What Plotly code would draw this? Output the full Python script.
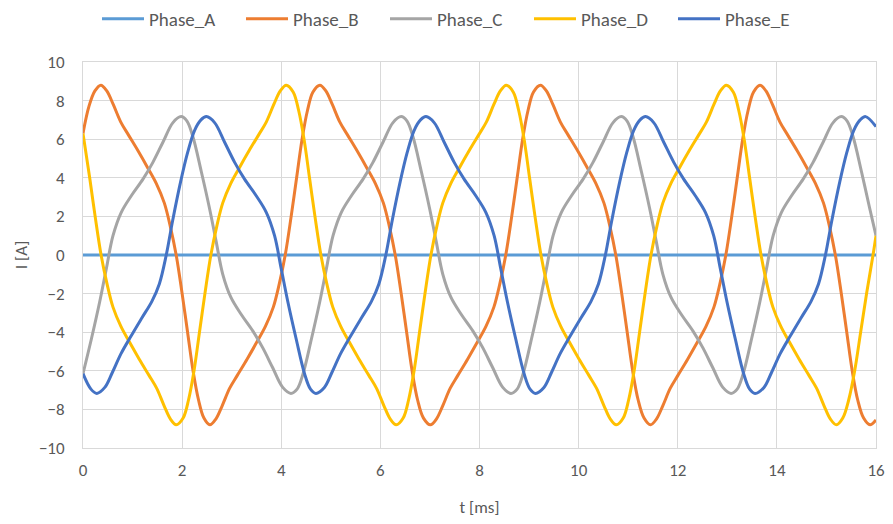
import plotly.graph_objects as go

# ---- data ----
series_names = ["Phase_A", "Phase_B", "Phase_C", "Phase_D", "Phase_E"]

t_A = [0.0, 16.0]
i_A = [0.0, 0.0]

t_B = [0.00, 0.12, 0.24, 0.36,
       0.48, 0.61, 0.76, 0.91, 1.11, 1.31, 1.48, 1.64, 1.76, 1.88, 2.00, 2.11, 2.22, 2.33, 2.44, 2.56,
       2.68, 2.81, 2.96, 3.11, 3.31, 3.51, 3.68, 3.84, 3.96, 4.08, 4.20, 4.31, 4.42, 4.53, 4.64, 4.78,
       4.90, 5.03, 5.18, 5.33, 5.53, 5.73, 5.90, 6.06, 6.18, 6.30, 6.42, 6.53, 6.64, 6.75, 6.87, 7.01,
       7.13, 7.26, 7.41, 7.56, 7.76, 7.96, 8.13, 8.29, 8.41, 8.53, 8.65, 8.76, 8.87, 8.98, 9.09, 9.23,
       9.35, 9.48, 9.63, 9.78, 9.98, 10.18, 10.35, 10.51, 10.63, 10.75, 10.87, 10.98, 11.09, 11.20, 11.32, 11.45,
       11.57, 11.70, 11.85, 12.00, 12.20, 12.40, 12.57, 12.73, 12.85, 12.97, 13.09, 13.20, 13.31, 13.42, 13.53, 13.66,
       13.78, 13.91, 14.06, 14.21, 14.41, 14.61, 14.78, 14.94, 15.06, 15.18, 15.30, 15.41, 15.52, 15.63, 15.75, 15.88,
       16.00]
i_B = [6.3, 7.7, 8.5, 8.8,
       8.5, 7.8, 6.9, 6.25, 5.4, 4.5, 3.7, 2.7, 1.5, 0.0, -2.0, -4.0, -6.0, -7.5, -8.45, -8.8,
       -8.5, -7.8, -6.9, -6.25, -5.4, -4.5, -3.7, -2.7, -1.5, 0.0, 2.0, 4.0, 6.0, 7.5, 8.45, 8.8,
       8.5, 7.8, 6.9, 6.25, 5.4, 4.5, 3.7, 2.7, 1.5, 0.0, -2.0, -4.0, -6.0, -7.5, -8.45, -8.8,
       -8.5, -7.8, -6.9, -6.25, -5.4, -4.5, -3.7, -2.7, -1.5, 0.0, 2.0, 4.0, 6.0, 7.5, 8.45, 8.8,
       8.5, 7.8, 6.9, 6.25, 5.4, 4.5, 3.7, 2.7, 1.5, 0.0, -2.0, -4.0, -6.0, -7.5, -8.45, -8.8,
       -8.5, -7.8, -6.9, -6.25, -5.4, -4.5, -3.7, -2.7, -1.5, 0.0, 2.0, 4.0, 6.0, 7.5, 8.45, 8.8,
       8.5, 7.8, 6.9, 6.25, 5.4, 4.5, 3.7, 2.7, 1.5, 0.0, -2.0, -4.0, -6.0, -7.5, -8.45, -8.8,
       -8.55]

t_C = [0.00, 0.17, 0.335, 0.47, 0.605, 0.77, 0.975, 1.21, 1.41, 1.61, 1.815, 1.98,
       2.095, 2.215, 2.385, 2.55, 2.685, 2.82, 2.985, 3.19, 3.425, 3.625, 3.825, 4.03, 4.195,
       4.32, 4.44, 4.61, 4.775, 4.91, 5.045, 5.21, 5.415, 5.65, 5.85, 6.05, 6.255, 6.42,
       6.535, 6.655, 6.825, 6.99, 7.125, 7.26, 7.425, 7.63, 7.865, 8.065, 8.265, 8.47, 8.635,
       8.76, 8.88, 9.05, 9.215, 9.35, 9.485, 9.65, 9.855, 10.09, 10.29, 10.49, 10.695, 10.86,
       10.975, 11.095, 11.265, 11.43, 11.565, 11.70, 11.865, 12.07, 12.305, 12.505, 12.705, 12.91, 13.075,
       13.20, 13.32, 13.49, 13.655, 13.79, 13.925, 14.09, 14.295, 14.53, 14.73, 14.93, 15.135, 15.30,
       15.415, 15.535, 15.705, 15.87, 16.00]
i_C = [-6.15, -4.34, -2.45, -0.72, 1.0, 2.2, 3.07, 3.93, 4.8, 5.83, 6.86, 7.17,
       6.95, 6.15, 4.34, 2.45, 0.72, -1.0, -2.2, -3.07, -3.93, -4.8, -5.83, -6.86, -7.17,
       -6.95, -6.15, -4.34, -2.45, -0.72, 1.0, 2.2, 3.07, 3.93, 4.8, 5.83, 6.86, 7.17,
       6.95, 6.15, 4.34, 2.45, 0.72, -1.0, -2.2, -3.07, -3.93, -4.8, -5.83, -6.86, -7.17,
       -6.95, -6.15, -4.34, -2.45, -0.72, 1.0, 2.2, 3.07, 3.93, 4.8, 5.83, 6.86, 7.17,
       6.95, 6.15, 4.34, 2.45, 0.72, -1.0, -2.2, -3.07, -3.93, -4.8, -5.83, -6.86, -7.17,
       -6.95, -6.15, -4.34, -2.45, -0.72, 1.0, 2.2, 3.07, 3.93, 4.8, 5.83, 6.86, 7.17,
       6.95, 6.15, 4.34, 2.45, 1.0]

t_D = [0.00, 0.135, 0.245, 0.365, 0.485, 0.605, 0.765, 0.935, 1.135, 1.335, 1.485, 1.635, 1.765, 1.88,
       2.02, 2.13, 2.24, 2.35, 2.46, 2.58, 2.70, 2.82, 2.98, 3.15, 3.35, 3.55, 3.70, 3.85, 3.98, 4.10,
       4.24, 4.35, 4.46, 4.57, 4.68, 4.80, 4.92, 5.04, 5.20, 5.37, 5.57, 5.77, 5.92, 6.07, 6.20, 6.32,
       6.46, 6.57, 6.68, 6.79, 6.90, 7.02, 7.14, 7.26, 7.42, 7.59, 7.79, 7.99, 8.14, 8.29, 8.42, 8.54,
       8.68, 8.79, 8.90, 9.01, 9.12, 9.24, 9.36, 9.48, 9.64, 9.81, 10.01, 10.21, 10.36, 10.51, 10.64, 10.76,
       10.90, 11.01, 11.12, 11.23, 11.34, 11.46, 11.58, 11.70, 11.86, 12.03, 12.23, 12.43, 12.58, 12.73, 12.86, 12.98,
       13.12, 13.23, 13.34, 13.45, 13.56, 13.68, 13.80, 13.92, 14.08, 14.25, 14.45, 14.65, 14.80, 14.95, 15.08, 15.20,
       15.33, 15.45, 15.57, 15.69, 15.81, 15.94, 16.00]
i_D = [6.3, 4.0, 2.0, 0.0, -1.5, -2.7, -3.7, -4.5, -5.4, -6.25, -6.9, -7.8, -8.5, -8.8,
       -8.45, -7.5, -6.0, -4.0, -2.0, 0.0, 1.5, 2.7, 3.7, 4.5, 5.4, 6.25, 6.9, 7.8, 8.5, 8.8,
       8.45, 7.5, 6.0, 4.0, 2.0, 0.0, -1.5, -2.7, -3.7, -4.5, -5.4, -6.25, -6.9, -7.8, -8.5, -8.8,
       -8.45, -7.5, -6.0, -4.0, -2.0, 0.0, 1.5, 2.7, 3.7, 4.5, 5.4, 6.25, 6.9, 7.8, 8.5, 8.8,
       8.45, 7.5, 6.0, 4.0, 2.0, 0.0, -1.5, -2.7, -3.7, -4.5, -5.4, -6.25, -6.9, -7.8, -8.5, -8.8,
       -8.45, -7.5, -6.0, -4.0, -2.0, 0.0, 1.5, 2.7, 3.7, 4.5, 5.4, 6.25, 6.9, 7.8, 8.5, 8.8,
       8.45, 7.5, 6.0, 4.0, 2.0, 0.0, -1.5, -2.7, -3.7, -4.5, -5.4, -6.25, -6.9, -7.8, -8.5, -8.8,
       -8.45, -7.5, -6.0, -4.0, -2.0, 0.0, 1.0]

t_E = [0.00, 0.16, 0.28,
       0.44, 0.59, 0.77, 0.97, 1.19, 1.39, 1.54, 1.68, 1.81, 1.97, 2.11, 2.25, 2.38, 2.49,
       2.655, 2.86, 3.06, 3.26, 3.495, 3.70, 3.865, 4.00, 4.135, 4.30, 4.47, 4.59, 4.70,
       4.87, 5.02, 5.20, 5.40, 5.62, 5.82, 5.97, 6.11, 6.24, 6.40, 6.54, 6.68, 6.81, 6.92,
       7.085, 7.29, 7.49, 7.69, 7.925, 8.13, 8.295, 8.43, 8.565, 8.73, 8.90, 9.02, 9.13,
       9.30, 9.45, 9.63, 9.83, 10.05, 10.25, 10.40, 10.54, 10.67, 10.83, 10.97, 11.11, 11.24, 11.35,
       11.515, 11.72, 11.92, 12.12, 12.355, 12.56, 12.725, 12.86, 12.995, 13.16, 13.33, 13.45, 13.56,
       13.74, 13.89, 14.07, 14.27, 14.49, 14.69, 14.84, 14.98, 15.11, 15.27, 15.41, 15.55, 15.68, 15.79,
       16.00]
i_E = [-6.15, -6.95, -7.17,
       -6.86, -6.1, -5.1, -4.2, -3.25, -2.4, -1.5, 0.0, 1.8, 3.8, 5.3, 6.45, 7.0, 7.17,
       6.86, 5.83, 4.8, 3.93, 3.07, 2.2, 1.0, -0.72, -2.45, -4.34, -6.15, -6.95, -7.17,
       -6.86, -6.1, -5.1, -4.2, -3.25, -2.4, -1.5, 0.0, 1.8, 3.8, 5.3, 6.45, 7.0, 7.17,
       6.86, 5.83, 4.8, 3.93, 3.07, 2.2, 1.0, -0.72, -2.45, -4.34, -6.15, -6.95, -7.17,
       -6.86, -6.1, -5.1, -4.2, -3.25, -2.4, -1.5, 0.0, 1.8, 3.8, 5.3, 6.45, 7.0, 7.17,
       6.86, 5.83, 4.8, 3.93, 3.07, 2.2, 1.0, -0.72, -2.45, -4.34, -6.15, -6.95, -7.17,
       -6.86, -6.1, -5.1, -4.2, -3.25, -2.4, -1.5, 0.0, 1.8, 3.8, 5.3, 6.45, 7.0, 7.17,
       6.65]

x_ticks = [0, 2, 4, 6, 8, 10, 12, 14, 16]
y_ticks = [-10, -8, -6, -4, -2, 0, 2, 4, 6, 8, 10]

colors = ["#5B9BD5", "#ED7D31", "#A5A5A5", "#FFC000", "#4472C4"]
series_t = [t_A, t_B, t_C, t_D, t_E]
series_i = [i_A, i_B, i_C, i_D, i_E]

fig = go.Figure()
for name, tt, ii, col in zip(series_names, series_t, series_i, colors):
    fig.add_trace(go.Scatter(
        x=tt, y=ii, name=name, mode="lines",
        line=dict(color=col, width=3, shape="spline", smoothing=1.0),
    ))

font_family = "Carlito, Calibri, Lato, sans-serif"
grid = "#D9D9D9"
txt = "#595959"

W, H = 893, 524

fig.update_layout(
    width=W, height=H,
    margin=dict(l=83, r=17, t=62, b=76, autoexpand=False),
    paper_bgcolor="white", plot_bgcolor="white",
    font=dict(family=font_family, size=17, color=txt),
    showlegend=True,
    legend=dict(orientation="h", xref="container", yref="container",
                x=97 / W, xanchor="left", y=1.0, yanchor="top",
                font=dict(size=19, color=txt), itemwidth=42,
                entrywidth=87, entrywidthmode="pixels", traceorder="normal"),
    xaxis=dict(range=[0, 16], tickvals=x_ticks, showgrid=True, gridcolor=grid, gridwidth=1,
               showline=True, mirror=True, linecolor=grid, linewidth=1, zeroline=False,
               ticks="", ticklabelstandoff=7, automargin=False,
               title=dict(text="t [ms]", standoff=20, font=dict(size=17, color=txt))),
    yaxis=dict(range=[-10, 10], tickvals=y_ticks, showgrid=True, gridcolor=grid, gridwidth=1,
               showline=True, mirror=True, linecolor=grid, linewidth=1, zeroline=False,
               ticks="", ticklabelstandoff=14, automargin=False,
               title=dict(text="I [A]", standoff=6, font=dict(size=17, color=txt))),
)

# remove the default 8px page margin so the figure fills the window exactly
fig.write_html("out.html", config={"displayModeBar": False},
               post_script="document.body.style.margin='0px';")
